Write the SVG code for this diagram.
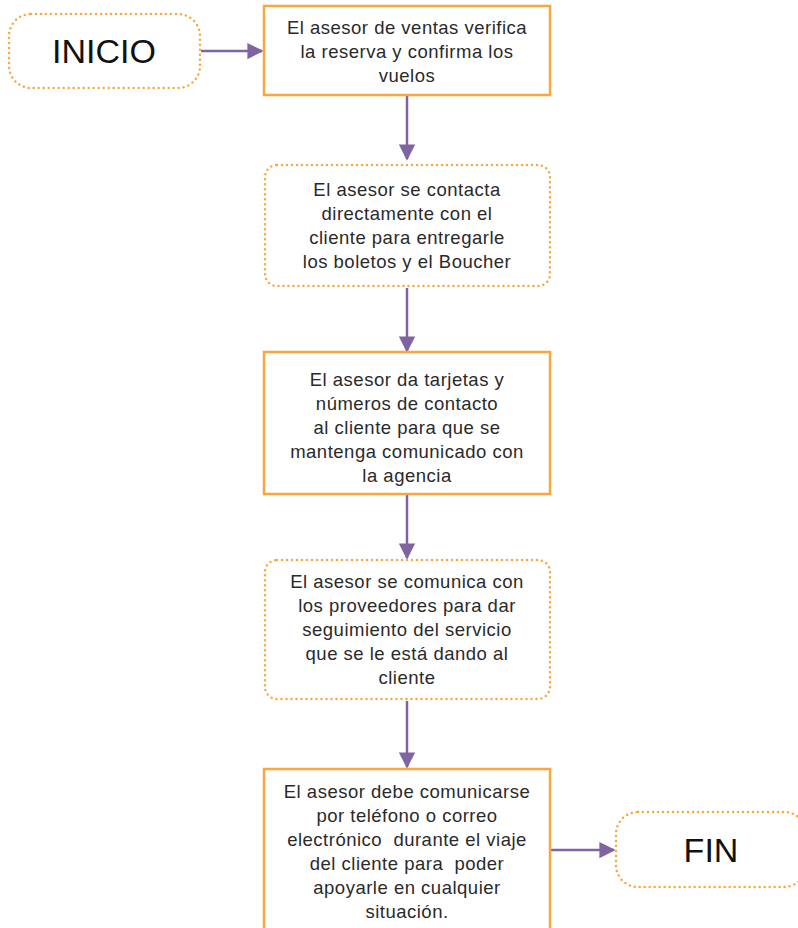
<svg xmlns="http://www.w3.org/2000/svg" width="798" height="928" viewBox="0 0 798 928">
<style>
.solid{fill:#fff;stroke:#F9A63F;stroke-width:2.5}
.dot{fill:#fff;stroke:#F9A63F;stroke-width:2.5;stroke-dasharray:0 5;stroke-linecap:round}
.t{font-family:"Liberation Sans",Arial,sans-serif;font-size:18.5px;letter-spacing:0.5px;fill:#2a2a2a;text-anchor:middle;white-space:pre}
.big{font-family:"Liberation Sans",Arial,sans-serif;font-size:34px;fill:#111;text-anchor:middle}
.c{stroke:#8064A2;stroke-width:2.5;fill:none;marker-end:url(#ah)}
</style>
<defs>
<marker id="ah" viewBox="0 0 10 10" refX="9" refY="5" markerWidth="6.5" markerHeight="7" orient="auto" markerUnits="strokeWidth">
<path d="M0,0 L10,5 L0,10 z" fill="#8064A2"/>
</marker>
</defs>
<rect width="798" height="928" fill="#fff"/>
<g id="connectors">
<line class="c" x1="201" y1="51" x2="262" y2="51"/>
<line class="c" x1="407" y1="96" x2="407" y2="159"/>
<line class="c" x1="407" y1="288" x2="407" y2="351"/>
<line class="c" x1="407" y1="495" x2="407" y2="558"/>
<line class="c" x1="407" y1="701" x2="407" y2="767"/>
<line class="c" x1="551" y1="850" x2="614" y2="850"/>
</g>
<g id="inicio">
<rect class="dot" x="9" y="14" width="191" height="74" rx="22"/>
<text class="big" x="104" y="63">INICIO</text>
</g>
<g id="n1">
<rect class="solid" x="264" y="6" width="286" height="89"/>
<text class="t" x="407" y="34">El asesor de ventas verifica</text>
<text class="t" x="407" y="58">la reserva y confirma los</text>
<text class="t" x="407" y="82">vuelos</text>
</g>
<g id="n2">
<rect class="dot" x="265" y="165" width="285" height="121" rx="12"/>
<text class="t" x="407" y="196">El asesor se contacta</text>
<text class="t" x="407" y="220">directamente con el</text>
<text class="t" x="407" y="244">cliente para entregarle</text>
<text class="t" x="407" y="268">los boletos y el Boucher</text>
</g>
<g id="n3">
<rect class="solid" x="264" y="352" width="286" height="142"/>
<text class="t" x="407" y="386">El asesor da tarjetas y</text>
<text class="t" x="407" y="410">números de contacto</text>
<text class="t" x="407" y="434">al cliente para que se</text>
<text class="t" x="407" y="458">mantenga comunicado con</text>
<text class="t" x="407" y="482">la agencia</text>
</g>
<g id="n4">
<rect class="dot" x="265" y="560" width="285" height="139" rx="12"/>
<text class="t" x="407" y="588">El asesor se comunica con</text>
<text class="t" x="407" y="612">los proveedores para dar</text>
<text class="t" x="407" y="636">seguimiento del servicio</text>
<text class="t" x="407" y="660">que se le está dando al</text>
<text class="t" x="407" y="684">cliente</text>
</g>
<g id="n5">
<rect class="solid" x="264" y="769" width="286" height="170"/>
<text class="t" x="407" y="798">El asesor debe comunicarse</text>
<text class="t" x="407" y="822">por teléfono o correo</text>
<text class="t" x="407" y="846">electrónico  durante el viaje</text>
<text class="t" x="407" y="870">del cliente para  poder</text>
<text class="t" x="407" y="894">apoyarle en cualquier</text>
<text class="t" x="407" y="918">situación.</text>
</g>
<g id="fin">
<rect class="dot" x="616" y="812" width="190" height="75" rx="22"/>
<text class="big" x="711" y="862">FIN</text>
</g>
</svg>
